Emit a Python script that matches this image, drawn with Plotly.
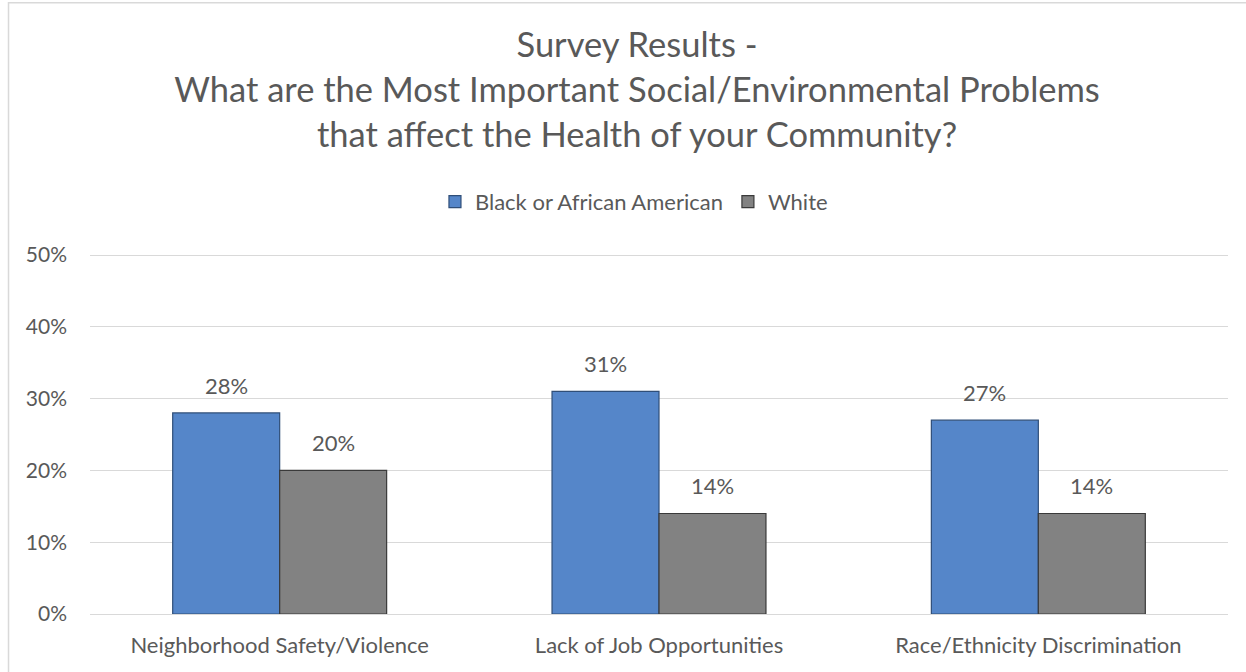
import plotly.graph_objects as go

categories = ["Neighborhood Safety/Violence", "Lack of Job Opportunities", "Race/Ethnicity Discrimination"]
black_values = [0.28, 0.31, 0.27]
white_values = [0.20, 0.14, 0.14]
series_names = ["Black or African American", "White"]
y_ticks = [0, 0.1, 0.2, 0.3, 0.4, 0.5]
y_tick_labels = ["0%", "10%", "20%", "30%", "40%", "50%"]
title_text = ("Survey Results -<br>What are the Most Important Social/Environmental Problems"
              "<br>that affect the Health of your Community?")

FONT = "Lato"
TXT = "#595959"
BLUE = "#5586C9"
GRAY = "#828282"

fig = go.Figure()
fig.add_trace(go.Bar(x=categories, y=black_values, name=series_names[0],
                     marker=dict(color=BLUE, line=dict(color="#2F4E78", width=1.2))))
fig.add_trace(go.Bar(x=categories, y=white_values, name=series_names[1],
                     marker=dict(color=GRAY, line=dict(color="#3A3A3A", width=1.2))))

annotations = []
for vals, shift in ((black_values, -53.5), (white_values, 53.5)):
    for c, v in zip(categories, vals):
        annotations.append(dict(x=c, y=v, xref="x", yref="y", xshift=shift, yshift=12,
                                text=f"{round(v*100)}%", showarrow=False, yanchor="bottom",
                                font=dict(family=FONT, size=22, color=TXT)))

fig.update_layout(
    width=1246, height=672,
    margin=dict(l=90, r=18, t=254, b=58),
    paper_bgcolor="white", plot_bgcolor="white",
    barmode="group", bargap=0.436, bargroupgap=0,
    font=dict(family=FONT, color=TXT),
    title=dict(text=title_text, x=0.4807, xref="paper", xanchor="center",
               y=1 - 57/672, yref="container", yanchor="middle",
               font=dict(family=FONT, size=34.5, color=TXT)),
    legend=dict(orientation="h", x=0.478, xanchor="center", y=1.145, yanchor="middle",
                font=dict(family=FONT, size=22, color=TXT), traceorder="normal"),
    xaxis=dict(showgrid=False, showline=True, linecolor="#D9D9D9", linewidth=1,
               tickfont=dict(family=FONT, size=22, color=TXT), ticks="",
               ticklabelstandoff=12),
    yaxis=dict(range=[0, 0.5014], tickvals=y_ticks, ticktext=y_tick_labels,
               showgrid=True, gridcolor="#D9D9D9", gridwidth=1, zeroline=False,
               showline=False, tickfont=dict(family=FONT, size=21, color=TXT),
               ticklabelstandoff=22),
    annotations=annotations,
    shapes=[dict(type="rect", xref="paper", yref="paper", x0=-0.0716, x1=2, y0=-1, y1=1.6978,
                 line=dict(color="#D9D9D9", width=1.5), fillcolor="rgba(0,0,0,0)", layer="below")],
)

fig.write_html("out.html", post_script="document.body.style.margin='0px';",
               config={"displayModeBar": False})
